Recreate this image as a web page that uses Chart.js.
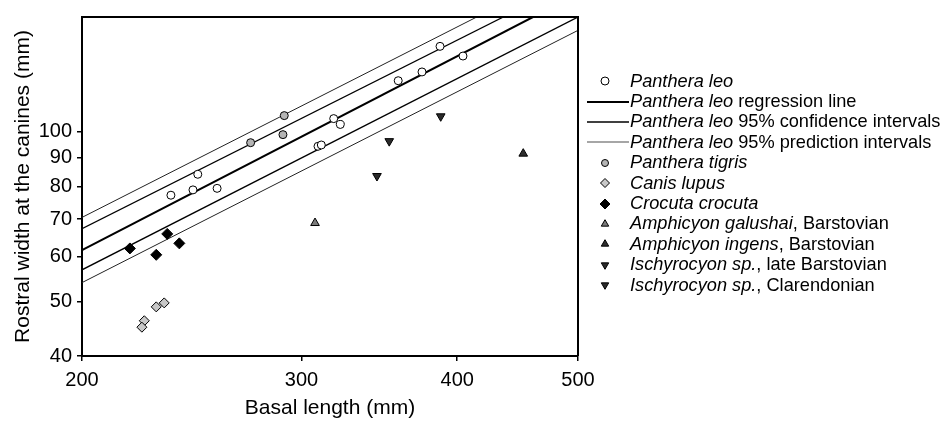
<!DOCTYPE html>
<html lang="en">
<head>
<meta charset="utf-8">
<title>Rostral width vs basal length</title>
<script src="https://cdn.jsdelivr.net/npm/chart.js@4.4.1/dist/chart.umd.min.js"></script>
<style>
  html, body { margin: 0; padding: 0; background: #fff; }
  .wrap { position: relative; width: 950px; height: 424px; overflow: hidden; }
  #chart { position: absolute; left: 0; top: 0; }
  .legend {
    position: absolute;
    left: 587px;
    top: 71px;
    font: 18.2px "Liberation Sans", Arial, sans-serif;
    color: #000;
  }
  .legend__row { display: flex; align-items: center; height: 20.4px; white-space: nowrap; }
  .legend__key { width: 43px; height: 20px; flex: none; display: block; }
</style>
</head>
<body>
<div class="wrap">
  <canvas id="chart" width="950" height="424"></canvas>
  <div class="legend" id="legend"></div>
</div>
<script>
/* global Chart */

// axis ticks
const xTicks = [200, 300, 400, 500];
const yTicks = [40, 50, 60, 70, 80, 90, 100];

// Panthera leo
const leoX = [235.7, 245.5, 247.7, 256.7, 309.3, 311.2, 318.4, 322.3, 358.7, 374.8, 387.5, 404.3];
const leoY = [77.2, 78.9, 84.1, 79.4, 94.3, 94.8, 105.6, 103.1, 123.3, 127.8, 141.9, 136.4];

// regression, confidence and prediction lines (end points)
const regX = [200, 460.1];
const regY = [61.65, 160];
const ciUpX = [200, 435.6];
const ciUpY = [67.3, 160];
const ciLoX = [200, 500];
const ciLoY = [56.9, 160];
const piUpX = [200, 414.7];
const piUpY = [70.5, 160];
const piLoX = [200, 500];
const piLoY = [54.0, 151.5];

// other taxa
const tigrisX = [273.1, 289.9, 290.6];
const tigrisY = [95.7, 98.9, 106.9];
const lupusX = [232.8, 229.4, 224.4, 223.4];
const lupusY = [49.7, 48.9, 46.2, 45.0];
const crocutaX = [218.5, 234.1, 239.4, 229.4];
const crocutaY = [62.1, 65.9, 63.4, 60.5];
const galushaiX = [307.6];
const galushaiY = [68.9];
const ingensX = [451.9];
const ingensY = [91.5];
const lateBarstovianX = [344.9, 352.8];
const lateBarstovianY = [83.5, 96.3];
const clarendonianX = [388.0];
const clarendonianY = [106.6];

const FONT = "'Liberation Sans', Arial, sans-serif";

function pts(xs, ys) {
  return xs.map((x, i) => ({ x, y: ys[i] }));
}

function pointSet(label, xs, ys, style) {
  return {
    label,
    data: pts(xs, ys),
    showLine: false,
    order: 1,
    pointStyle: style.shape,
    rotation: style.rotation || 0,
    pointRadius: style.r,
    pointBackgroundColor: style.fill,
    pointBorderColor: "#000",
    pointBorderWidth: style.bw || 1
  };
}

function lineSet(label, xs, ys, color, width) {
  return {
    label,
    data: pts(xs, ys),
    showLine: true,
    order: 2,
    pointRadius: 0,
    borderColor: color,
    borderWidth: width,
    fill: false
  };
}

const styles = {
  leo: { shape: "circle", r: 4, fill: "#fff" },
  tigris: { shape: "circle", r: 4, fill: "#b4b4b4" },
  lupus: { shape: "rectRot", r: 5, fill: "#c8c8c8" },
  crocuta: { shape: "rectRot", r: 5.5, fill: "#000" },
  galushai: { shape: "triangle", r: 5, fill: "#7a7a7a" },
  ingens: { shape: "triangle", r: 5, fill: "#2e2e2e" },
  ischy: { shape: "triangle", r: 5, fill: "#2a2a2a", rotation: 180 }
};

const datasets = [
  pointSet("Panthera leo", leoX, leoY, styles.leo),
  lineSet("Panthera leo regression line", regX, regY, "#000", 2),
  lineSet("Panthera leo 95% confidence intervals", ciUpX, ciUpY, "#000", 1.3),
  lineSet("ci lower", ciLoX, ciLoY, "#000", 1.3),
  lineSet("Panthera leo 95% prediction intervals", piUpX, piUpY, "#222", 1),
  lineSet("pi lower", piLoX, piLoY, "#222", 1),
  pointSet("Panthera tigris", tigrisX, tigrisY, styles.tigris),
  pointSet("Canis lupus", lupusX, lupusY, styles.lupus),
  pointSet("Crocuta crocuta", crocutaX, crocutaY, styles.crocuta),
  pointSet("Amphicyon galushai", galushaiX, galushaiY, styles.galushai),
  pointSet("Amphicyon ingens", ingensX, ingensY, styles.ingens),
  pointSet("Ischyrocyon sp. late Barstovian", lateBarstovianX, lateBarstovianY, styles.ischy),
  pointSet("Ischyrocyon sp. Clarendonian", clarendonianX, clarendonianY, styles.ischy)
];

// legend rows: italic part, plain part, key
const legendRows = [
  ["Panthera leo", "", { point: styles.leo }],
  ["Panthera leo", " regression line", { line: "#000", w: 2 }],
  ["Panthera leo", " 95% confidence intervals", { line: "#000", w: 1.3 }],
  ["Panthera leo", " 95% prediction intervals", { line: "#888", w: 1.3 }],
  ["Panthera tigris", "", { point: { shape: "circle", r: 3.5, fill: "#b4b4b4" } }],
  ["Canis lupus", "", { point: { shape: "rectRot", r: 4.5, fill: "#c8c8c8" } }],
  ["Crocuta crocuta", "", { point: { shape: "rectRot", r: 5, fill: "#000" } }],
  ["Amphicyon galushai", ", Barstovian", { point: { shape: "triangle", r: 4.3, fill: "#7a7a7a" } }],
  ["Amphicyon ingens", ", Barstovian", { point: { shape: "triangle", r: 4.3, fill: "#2e2e2e" } }],
  ["Ischyrocyon sp.", ", late Barstovian", { point: { shape: "triangle", r: 4.3, fill: "#2a2a2a", rotation: 180 } }],
  ["Ischyrocyon sp.", ", Clarendonian", { point: { shape: "triangle", r: 4.3, fill: "#2a2a2a", rotation: 180 } }]
];

function keySvg(key) {
  if (key.line) {
    return `<svg class="legend__key" viewBox="0 0 43 20"><line x1="0" y1="10" x2="42" y2="10" stroke="${key.line}" stroke-width="${key.w}"/></svg>`;
  }
  const p = key.point;
  const cx = 18;
  const cy = 10;
  let shape = "";
  if (p.shape === "circle") {
    shape = `<circle cx="${cx}" cy="${cy}" r="${p.r}"/>`;
  } else if (p.shape === "rectRot") {
    shape = `<polygon points="${cx},${cy - p.r} ${cx + p.r},${cy} ${cx},${cy + p.r} ${cx - p.r},${cy}"/>`;
  } else {
    const s = p.rotation ? -1 : 1;
    const h = p.r * 0.866;
    shape = `<polygon points="${cx},${cy - s * p.r} ${cx + h},${cy + s * p.r / 2} ${cx - h},${cy + s * p.r / 2}"/>`;
  }
  return `<svg class="legend__key" viewBox="0 0 43 20"><g fill="${p.fill}" stroke="#000" stroke-width="1">${shape}</g></svg>`;
}

function renderLegend() {
  const el = document.getElementById("legend");
  el.innerHTML = legendRows
    .map(([it, plain, key]) => `<div class="legend__row">${keySvg(key)}<span><i>${it}</i>${plain}</span></div>`)
    .join("");
}

function fixedTicks(values) {
  return (scale) => {
    scale.ticks = values.map((v) => ({ value: v }));
  };
}

const framePlugin = {
  id: "frame",
  afterDatasetsDraw(chart) {
    const { ctx, chartArea: a } = chart;
    ctx.save();
    ctx.strokeStyle = "#000";
    ctx.lineWidth = 2;
    ctx.beginPath();
    ctx.moveTo(a.left, a.top);
    ctx.lineTo(a.right, a.top);
    ctx.lineTo(a.right, a.bottom);
    ctx.stroke();
    ctx.restore();
  }
};

function init() {
  renderLegend();
  const ctx = document.getElementById("chart").getContext("2d");
  new Chart(ctx, {
    type: "scatter",
    data: { datasets },
    plugins: [framePlugin],
    options: {
      responsive: false,
      animation: false,
      events: [],
      layout: { padding: { top: 9, right: 372, left: 0, bottom: 0 } },
      plugins: { legend: { display: false }, tooltip: { enabled: false } },
      scales: {
        x: {
          type: "logarithmic",
          min: 200,
          max: 500,
          afterBuildTicks: fixedTicks(xTicks),
          afterFit: (s) => { s.height = 68; },
          border: { display: true, color: "#000", width: 2 },
          grid: { drawOnChartArea: false, drawTicks: true, tickLength: 5, color: "#000", lineWidth: 1.5 },
          ticks: {
            autoSkip: false,
            maxRotation: 0,
            padding: 7,
            color: "#000",
            font: { family: FONT, size: 20 },
            callback: (v) => String(v)
          },
          title: {
            display: true,
            text: "Basal length (mm)",
            color: "#000",
            font: { family: FONT, size: 21 },
            padding: { top: 0, bottom: 3 }
          }
        },
        y: {
          type: "logarithmic",
          min: 40,
          max: 160,
          afterBuildTicks: fixedTicks(yTicks),
          afterFit: (s) => { s.width = 82; },
          border: { display: true, color: "#000", width: 2 },
          grid: { drawOnChartArea: false, drawTicks: true, tickLength: 5, color: "#000", lineWidth: 1.5 },
          ticks: {
            autoSkip: false,
            padding: 5,
            color: "#000",
            font: { family: FONT, size: 20 },
            callback: (v) => String(v)
          },
          title: {
            display: true,
            text: "Rostral width at the canines (mm)",
            color: "#000",
            font: { family: FONT, size: 21 },
            padding: { top: 11, bottom: 0 }
          }
        }
      }
    }
  });
}

document.addEventListener("DOMContentLoaded", init);
</script>
</body>
</html>
